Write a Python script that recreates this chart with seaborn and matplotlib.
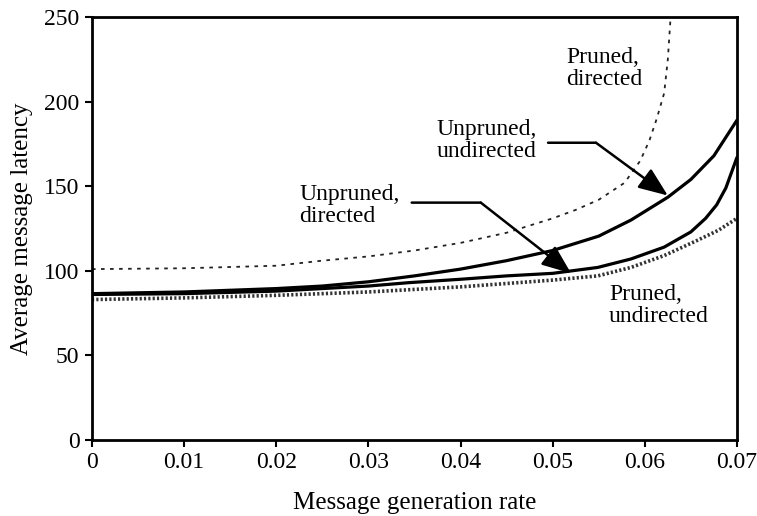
import matplotlib
matplotlib.use("Agg")
import matplotlib.pyplot as plt
import seaborn as sns
import pandas as pd

# ---- data ----
pd_x = [0, 0.01, 0.02, 0.025, 0.03, 0.035, 0.04, 0.045, 0.05, 0.0525, 0.055,
        0.0578, 0.0595, 0.0605, 0.0613, 0.0621, 0.0625, 0.0628]
pd_y = [101, 101.5, 103, 106, 108.5, 112, 116.5, 122.5, 131, 136, 142,
        152, 165, 177, 190, 205, 225, 250]

uu_x = [0, 0.01, 0.02, 0.025, 0.03, 0.035, 0.04, 0.045, 0.05, 0.055, 0.0585,
        0.0625, 0.065, 0.0675, 0.07]
uu_y = [86.5, 87.5, 89.5, 91, 93.5, 97, 101, 106, 112, 120.5, 130,
        143.5, 154, 168, 189]

ud_x = [0, 0.01, 0.02, 0.03, 0.0344, 0.04, 0.045, 0.05, 0.0549, 0.0585, 0.0621,
        0.065, 0.0666, 0.0678, 0.0688, 0.07]
ud_y = [86, 86.5, 88, 91, 93, 95, 97, 98.5, 102, 107, 114,
        123, 131, 139, 149, 167]

pu_x = [0, 0.01, 0.02, 0.03, 0.035, 0.04, 0.045, 0.05, 0.0549, 0.0585, 0.0621,
        0.0657, 0.068, 0.07]
pu_y = [83, 84, 85.5, 87.5, 89, 90.5, 92.5, 94.5, 97, 102, 109,
        118, 124, 131]

x_ticks = [0, 0.01, 0.02, 0.03, 0.04, 0.05, 0.06, 0.07]
x_tick_labels = ["0", "0.01", "0.02", "0.03", "0.04", "0.05", "0.06", "0.07"]
y_ticks = [0, 50, 100, 150, 200, 250]
y_tick_labels = ["0", "50", "100", "150", "200", "250"]

x_label = "Message generation rate"
y_label = "Average message latency"

# ---- style ----
sns.set_theme(style="ticks")
plt.rcParams["font.family"] = ["Liberation Serif", "DejaVu Serif"]
FS = 17

fig = plt.figure(figsize=(7.57, 5.16), dpi=100)
ax = fig.add_axes([0.1215, 0.1473, 0.852, 0.8197])

def df(x, y):
    return pd.DataFrame({"x": x, "y": y})

sns.lineplot(data=df(pd_x, pd_y), x="x", y="y", ax=ax, color="#222222",
             linewidth=1.3, linestyle=(0, (2, 3)))
sns.lineplot(data=df(uu_x, uu_y), x="x", y="y", ax=ax, color="black",
             linewidth=2.3)
sns.lineplot(data=df(ud_x, ud_y), x="x", y="y", ax=ax, color="black",
             linewidth=2.3)
sns.lineplot(data=df(pu_x, pu_y), x="x", y="y", ax=ax, color="#333333",
             linewidth=2.6, linestyle=(0, (0.6, 0.6)))

ax.set_xlim(0, 0.07)
ax.set_ylim(0, 250)
ax.set_xticks(x_ticks)
ax.set_xticklabels(x_tick_labels)
ax.set_yticks(y_ticks)
ax.set_yticklabels(y_tick_labels)
ax.tick_params(axis="both", direction="out", length=5, width=1.5,
               labelsize=FS, colors="black", pad=4)
for s in ax.spines.values():
    s.set_visible(True)
    s.set_linewidth(2.0)
    s.set_color("black")

ax.set_xlabel(x_label, fontsize=FS + 1, color="black")
ax.set_ylabel(y_label, fontsize=FS + 1, color="black")
ax.xaxis.set_label_coords(0.5, -0.124)
ax.yaxis.set_label_coords(-0.092, 0.5)

# ---- annotations ----
txt = dict(fontsize=FS, color="black", ha="left", va="center", linespacing=1.05)
ax.text(0.0515, 219.5, "Pruned,\ndirected", **txt)
ax.text(0.0374, 177, "Unpruned,\nundirected", **txt)
ax.text(0.0225, 138.5, "Unpruned,\ndirected", **txt)
ax.text(0.0561, 79.5, "Pruned,\nundirected", **txt)

line = dict(arrowstyle="-", lw=1.8, color="black", shrinkA=0, shrinkB=0)
head = dict(arrowstyle="-|>,head_length=1.0,head_width=0.4", lw=1.8,
            color="black", shrinkA=0, shrinkB=0, mutation_scale=18)
# Unpruned, undirected
ax.annotate("", xy=(0.0547, 175.7), xytext=(0.0495, 175.7), arrowprops=line)
ax.annotate("", xy=(0.0625, 144.5), xytext=(0.0547, 175.7), arrowprops=head)
# Unpruned, directed
ax.annotate("", xy=(0.0422, 140.3), xytext=(0.0347, 140.3), arrowprops=line)
ax.annotate("", xy=(0.0520, 98.5), xytext=(0.0422, 140.3), arrowprops=head)

fig.savefig("out.png", dpi=100, facecolor="white")
